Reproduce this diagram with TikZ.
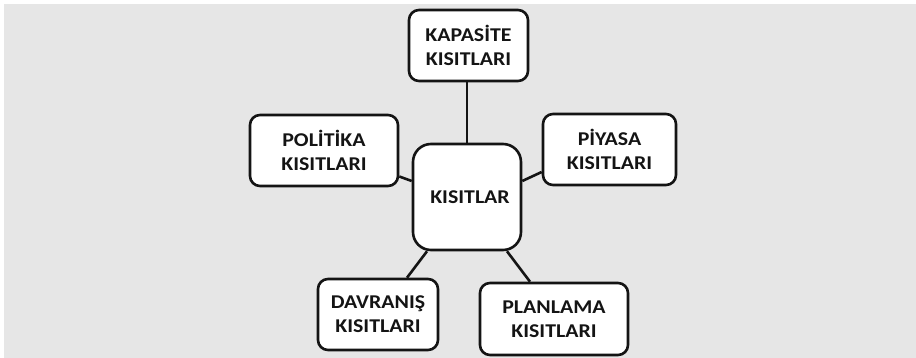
\documentclass[tikz,border=0pt]{standalone}
\usepackage{fontspec}
\newfontfamily\boxfont[FakeStretch=1.12]{Carlito}
\usetikzlibrary{calc}
\definecolor{bggray}{HTML}{E6E6E6}
\definecolor{inkc}{HTML}{141414}
\tikzset{
  box/.style={draw=inkc, line width=2.6pt, fill=white, rounded corners=10pt,
    align=center, inner sep=0pt, text=inkc,
    font=\boxfont\bfseries\fontsize{19.5}{24}\selectfont},
  link/.style={draw=inkc, line width=2.6pt},
}
\begin{document}
\begin{tikzpicture}[x=1pt,y=-1pt]
\useasboundingbox (0,0) rectangle (916,358);
\fill[white] (0,0) rectangle (916,358);
\fill[bggray] (4,4) rectangle (916,358);
\node[box, minimum width=119pt, minimum height=71pt] (kap) at (468.5,45.5) {KAPAS\.ITE\\KISITLARI};
\node[box, minimum width=148pt, minimum height=71pt] (pol) at (324,150.5) {POL\.IT\.IKA\\KISITLARI};
\node[box, minimum width=133pt, minimum height=71pt] (piy) at (609.5,149.5) {P\.IYASA\\KISITLARI};
\node[box, minimum width=108pt, minimum height=106pt, rounded corners=18pt] (cen) at (467,197) {\hspace*{6pt}KISITLAR};
\node[box, minimum width=120pt, minimum height=71pt] (dav) at (378,314.5) {DAVRANIŞ\\KISITLARI};
\node[box, minimum width=148pt, minimum height=72pt] (pla) at (554,319) {PLANLAMA\\KISITLARI};
\draw[link] (kap.south -| cen.north) -- (cen.north);
\draw[link] ($(pol.east)+(0,26)$) -- ($(cen.west)+(0,-16)$);
\draw[link] ($(cen.east)+(0,-16)$) -- ($(piy.west)+(0,22.5)$);
\draw[link] ($(cen.south)+(-40,0)$) -- ($(dav.north)+(29,0)$);
\draw[link] ($(cen.south)+(40,0)$) -- ($(pla.north)+(-24,0)$);
\end{tikzpicture}
\end{document}
